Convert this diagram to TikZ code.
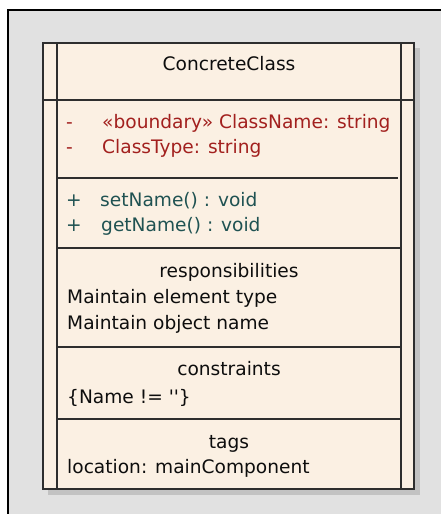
\documentclass[tikz,border=0pt]{standalone}
\usepackage{fontspec}
\newfontfamily\umlfont{DejaVu Sans}
\definecolor{bggray}{HTML}{E1E1E1}
\definecolor{cream}{HTML}{FBF0E3}
\definecolor{shadowgray}{HTML}{C2C2C2}
\definecolor{linedark}{HTML}{2E2E2E}
\definecolor{attrred}{HTML}{A2201E}
\definecolor{opteal}{HTML}{1F5252}
\tikzset{
  txt/.style={anchor=base west, inner sep=0pt, font=\umlfont\fontsize{18.6}{22}\selectfont, text=black!95},
  ctxt/.style={txt, anchor=base},
  attr/.style={txt, text=attrred},
  oper/.style={txt, text=opteal},
  sep/.style={draw=linedark, line width=1.4pt},
  frameline/.style={draw=linedark, line width=2pt},
}
\begin{document}
\begin{tikzpicture}[x=1pt,y=-1pt]
\useasboundingbox (0,0) rectangle (441,514);
% background
\fill[white] (0,0) rectangle (441,514);
\fill[bggray] (8,10) rectangle (441,514);
\draw[black, line width=2pt] (8,514) -- (8,10) -- (441,10);
% shadow
\fill[shadowgray] (48,48) rectangle (420,495);
% class box
\fill[cream] (43,43) rectangle (414,489);
\draw[frameline] (43,43) rectangle (414,489);
\draw[sep] (57,43) -- (57,489);
\draw[sep] (401,43) -- (401,489);
\draw[sep] (43,100) -- (414,100);
\draw[sep] (57,178) -- (398,178);
\draw[sep] (57,248) -- (401,248);
\draw[sep] (57,347) -- (401,347);
\draw[sep] (57,419) -- (401,419);
% header
\node[ctxt] (name) at (229,70) {ConcreteClass};
% attributes
\node[attr] (a1v) at (66,128) {-};
\node[attr] (a1) at (102,128) {«boundary» ClassName:  string};
\node[attr] (a2v) at (66,153) {-};
\node[attr] (a2) at (102,153) {ClassType:  string};
% operations
\node[oper] (o1v) at (66,206) {+};
\node[oper] (o1) at (100,206) {setName() : void};
\node[oper] (o2v) at (66,231) {+};
\node[oper] (o2) at (101,231) {getName() : void};
% responsibilities
\node[ctxt] (rt) at (229,277) {responsibilities};
\node[txt] (r1) at (67,303) {Maintain element type};
\node[txt] (r2) at (67,329) {Maintain object name};
% constraints
\node[ctxt] (ct) at (229,375) {constraints};
\node[txt] (c1) at (67,403) {\{Name != ''\}};
% tags
\node[ctxt] (tt) at (229,448) {tags};
\node[txt] (t1) at (67,473) {location: mainComponent};
\end{tikzpicture}
\end{document}
